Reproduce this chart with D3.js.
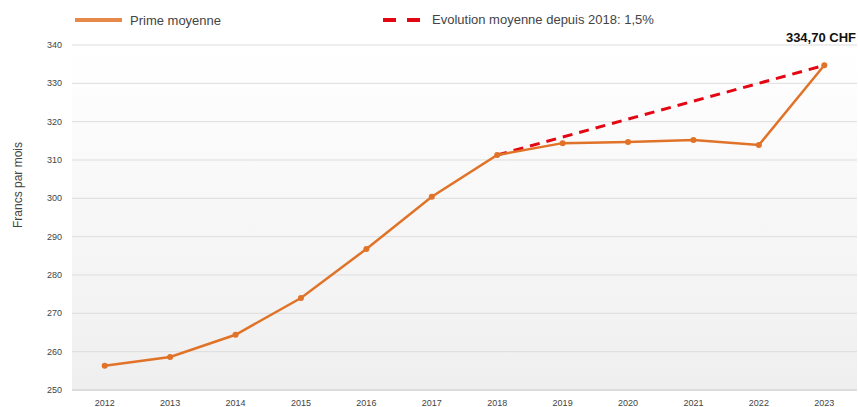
<!DOCTYPE html>
<meta charset="utf-8">
<script src="https://d3js.org/d3.v7.min.js"></script>
<style>
  body { margin: 0; background: #fff; }
  text { font-family: "Liberation Sans", Arial, sans-serif; }
</style>
<div id="chart"></div>
<script>

// data
var years = [2012, 2013, 2014, 2015, 2016, 2017, 2018, 2019, 2020, 2021, 2022, 2023];
var prime = [256.3, 258.6, 264.4, 274.0, 286.8, 300.4, 311.3, 314.4, 314.7, 315.2, 313.9, 334.7];
var trendYears = [2018, 2023];
var trendValues = [311.3, 334.7];
var yTicks = [250, 260, 270, 280, 290, 300, 310, 320, 330, 340];

var width = 858, height = 407;
var margin = {top: 45, right: 1, bottom: 17, left: 72};

var svg = d3.select("#chart")
  .append("svg")
    .attr("width", width)
    .attr("height", height);

var x = d3.scaleBand()
  .domain(years)
  .range([margin.left, width - margin.right]);

var y = d3.scaleLinear()
  .domain([250, 340])
  .range([height - margin.bottom, margin.top]);

var cx = function(yr) { return x(yr) + x.bandwidth() / 2; };

// background gradient
var grad = svg.append("defs").append("linearGradient")
  .attr("id", "bg")
  .attr("x1", 0).attr("y1", 0).attr("x2", 0).attr("y2", 1);
grad.append("stop").attr("offset", "0%").attr("stop-color", "#ffffff");
grad.append("stop").attr("offset", "100%").attr("stop-color", "#efefef");

svg.append("rect")
  .attr("x", margin.left)
  .attr("y", y(340))
  .attr("width", width - margin.right - margin.left)
  .attr("height", y(250) - y(340))
  .attr("fill", "url(#bg)");

// gridlines
svg.selectAll(".grid")
  .data(yTicks)
  .enter()
  .append("line")
    .attr("x1", margin.left)
    .attr("x2", width - margin.right)
    .attr("y1", function(d) { return y(d); })
    .attr("y2", function(d) { return y(d); })
    .attr("stroke", function(d) { return d == 250 ? "#dcdcdc" : "#dddddd"; })
    .attr("stroke-width", function(d) { return d == 250 ? 2 : 1; });

// y tick labels
svg.selectAll(".ylab")
  .data(yTicks)
  .enter()
  .append("text")
    .attr("x", 62)
    .attr("y", function(d) { return y(d); })
    .attr("dy", "0.35em")
    .attr("text-anchor", "end")
    .style("font-size", "9px")
    .style("fill", "#444")
    .text(function(d) { return d; });

// x tick labels
svg.selectAll(".xlab")
  .data(years)
  .enter()
  .append("text")
    .attr("x", function(d) { return cx(d); })
    .attr("y", 406)
    .attr("text-anchor", "middle")
    .style("font-size", "9px")
    .style("fill", "#444")
    .text(function(d) { return d; });

// y axis title
svg.append("text")
  .attr("transform", "translate(22," + 185 + ") rotate(-90)")
  .attr("text-anchor", "middle")
  .style("font-size", "12px")
  .style("fill", "#444")
  .text("Francs par mois");

// trend line
var trend = trendYears.map(function(d, i) { return [d, trendValues[i]]; });
svg.append("path")
  .datum(trend)
  .attr("fill", "none")
  .attr("stroke", "#e30613")
  .attr("stroke-width", 3)
  .style("stroke-dasharray", "10, 7")
  .attr("d", d3.line()
    .x(function(d) { return cx(d[0]); })
    .y(function(d) { return y(d[1]); }));

// main line
var pts = years.map(function(d, i) { return [d, prime[i]]; });
svg.append("path")
  .datum(pts)
  .attr("fill", "none")
  .attr("stroke", "#e07328")
  .attr("stroke-width", 2.5)
  .attr("d", d3.line()
    .x(function(d) { return cx(d[0]); })
    .y(function(d) { return y(d[1]); }));

svg.selectAll(".dot")
  .data(pts)
  .enter()
  .append("circle")
    .attr("cx", function(d) { return cx(d[0]); })
    .attr("cy", function(d) { return y(d[1]); })
    .attr("r", 3)
    .attr("fill", "#e07328");

// last value label
svg.append("text")
  .attr("x", 856)
  .attr("y", 42)
  .attr("text-anchor", "end")
  .style("font-size", "13px")
  .style("font-weight", "bold")
  .style("fill", "#111")
  .text("334,70 CHF");

// legend
svg.append("line")
  .attr("x1", 75).attr("x2", 122)
  .attr("y1", 20).attr("y2", 20)
  .attr("stroke", "#e8894a")
  .attr("stroke-width", 4);
svg.append("text")
  .attr("x", 130).attr("y", 20)
  .attr("dy", "0.35em")
  .style("font-size", "13px")
  .style("fill", "#444")
  .text("Prime moyenne");

svg.append("line")
  .attr("x1", 383).attr("x2", 420)
  .attr("y1", 20).attr("y2", 20)
  .attr("stroke", "#e30613")
  .attr("stroke-width", 4)
  .style("stroke-dasharray", "13, 11");
svg.append("text")
  .attr("x", 432).attr("y", 19)
  .attr("dy", "0.35em")
  .style("font-size", "13px")
  .style("fill", "#444")
  .text("Evolution moyenne depuis 2018: 1,5%");

</script>
